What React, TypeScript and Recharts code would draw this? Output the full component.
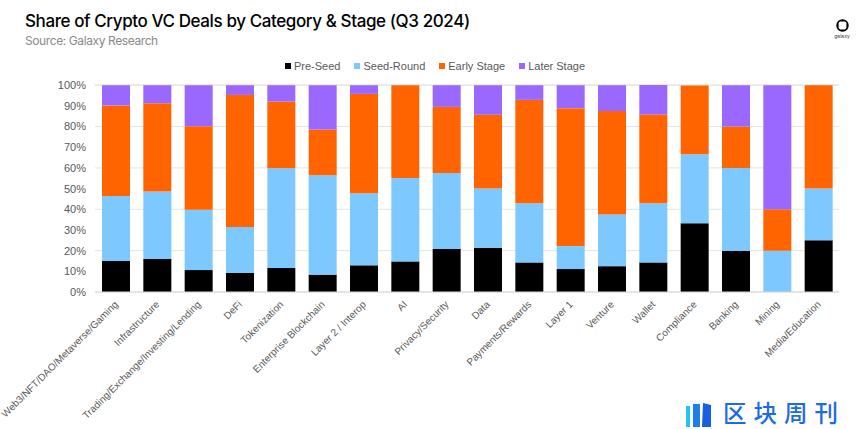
import { BarChart, Bar, XAxis, YAxis, CartesianGrid, Legend } from "recharts";

const categories = [
  "Web3/NFT/DAO/Metaverse/Gaming",
  "Infrastructure",
  "Trading/Exchange/Investing/Lending",
  "DeFi",
  "Tokenization",
  "Enterprise Blockchain",
  "Layer 2 / Interop",
  "AI",
  "Privacy/Security",
  "Data",
  "Payments/Rewards",
  "Layer 1",
  "Venture",
  "Wallet",
  "Compliance",
  "Banking",
  "Mining",
  "Media/Education",
];

const preSeed = [15, 16, 10.6, 9.3, 11.6, 8.4, 12.9, 14.8, 20.8, 21.4, 14.3, 11.1, 12.5, 14.3, 33.3, 20, 0, 25];
const seedRound = [31.4, 32.6, 29.2, 22.1, 48.3, 48.1, 34.8, 40.3, 36.8, 28.6, 28.6, 11.1, 25, 28.6, 33.3, 40, 20, 25];
const earlyStage = [43.8, 42.7, 40.4, 63.9, 32.2, 22.1, 48.1, 44.9, 31.9, 35.7, 50, 66.7, 50, 42.9, 33.3, 20, 20, 50];
const laterStage = [9.8, 8.7, 19.8, 4.7, 7.9, 21.4, 4.2, 0, 10.5, 14.3, 7.1, 11.1, 12.5, 14.3, 0, 20, 60, 0];

const yTicks = [0, 10, 20, 30, 40, 50, 60, 70, 80, 90, 100];

const series = [
  { key: "preSeed", label: "Pre-Seed", color: "#000000" },
  { key: "seedRound", label: "Seed-Round", color: "#7DC9FF" },
  { key: "earlyStage", label: "Early Stage", color: "#FF6400" },
  { key: "laterStage", label: "Later Stage", color: "#9A68FF" },
];

const data = categories.map((name, i) => ({
  name,
  preSeed: preSeed[i],
  seedRound: seedRound[i],
  earlyStage: earlyStage[i],
  laterStage: laterStage[i],
}));

const axisFont = "'Liberation Sans', Arial, sans-serif";

function CategoryTick({ x, y, payload }: any) {
  const ax = x + 3;
  const ay = y + 5;
  return (
    <text
      x={ax}
      y={ay}
      textAnchor="end"
      transform={`rotate(-45, ${ax}, ${ay})`}
      fontSize={10}
      fontFamily={axisFont}
      fill="#595959"
    >
      {payload.value}
    </text>
  );
}

function StageLegend() {
  return (
    <div style={{ display: "flex", alignItems: "center", paddingLeft: 285, fontFamily: axisFont, fontSize: 11, color: "#595959" }}>
      {series.map((s) => (
        <div key={s.key} style={{ display: "flex", alignItems: "center", marginRight: 14 }}>
          <div style={{ width: 6, height: 6, background: s.color, marginRight: 3 }} />
          <span>{s.label}</span>
        </div>
      ))}
    </div>
  );
}

function GalaxyMark() {
  return (
    <div style={{ position: "absolute", left: 830, top: 19, width: 24, textAlign: "center" }}>
      <svg width={13} height={13} viewBox="0 0 13 13" style={{ display: "block", margin: "0 auto" }}>
        <circle cx={6.5} cy={6.5} r={6.2} fill="#000" />
        <rect x={2.6} y={2.6} width={7.8} height={7.8} rx={1.8} fill="#fff" />
      </svg>
      <div style={{ fontFamily: "Inter, sans-serif", fontSize: 5, color: "#333", marginTop: 1, lineHeight: "6px" }}>galaxy</div>
    </div>
  );
}

// 区块周刊 watermark, bottom right
function Watermark() {
  return (
    <div style={{ position: "absolute", left: 686, top: 396, display: "flex", alignItems: "flex-start" }}>
      <svg width={26} height={24} viewBox="0 0 26 24" style={{ marginTop: 7 }}>
        <rect x={0} y={3} width={4} height={21} fill="#22c4f3" />
        <rect x={7} y={1} width={7} height={23} fill="#1b7ff0" />
        <polygon points="17,0 25,2 25,24 16,24" fill="#1a5fe0" />
      </svg>
      <svg width={126} height={33} style={{ marginLeft: 11 }}>
        <text
          x={0}
          y={26}
          fontFamily="'Noto Sans CJK SC', sans-serif"
          fontWeight={500}
          fontSize={23.5}
          letterSpacing={7}
          fill="#1d6ae5"
        >
          区块周刊
        </text>
      </svg>
    </div>
  );
}

export default function App() {
  return (
    <div style={{ position: "absolute", left: 0, top: 0, width: 866, height: 429, background: "#fff", overflow: "hidden" }}>
      <div style={{ position: "absolute", left: 25, top: 11, fontFamily: "Inter, sans-serif", fontWeight: 500, fontSize: 17, color: "#000", letterSpacing: -0.4 }}>
        Share of Crypto VC Deals by Category &amp; Stage (Q3 2024)
      </div>
      <div style={{ position: "absolute", left: 25, top: 33, fontFamily: "Inter, sans-serif", fontSize: 12, color: "#8a8a8a", letterSpacing: -0.4 }}>
        Source: Galaxy Research
      </div>
      <GalaxyMark />
      <BarChart width={866} height={429} data={data} margin={{ top: 85, right: 27, left: 0, bottom: 0 }}>
        <CartesianGrid vertical={false} stroke="#e3e3e3" />
        <XAxis
          dataKey="name"
          interval={0}
          height={137}
          tick={<CategoryTick />}
          tickLine={false}
          axisLine={{ stroke: "#d9d9d9" }}
        />
        <YAxis
          domain={[0, 100]}
          ticks={yTicks}
          tickFormatter={(v: number) => `${v}%`}
          width={95}
          axisLine={false}
          tickLine={false}
          tickMargin={3}
          tick={{ fontSize: 11, fill: "#595959", fontFamily: axisFont }}
        />
        <Legend
          verticalAlign="middle"
          layout="horizontal"
          content={<StageLegend />}
          wrapperStyle={{ top: 60, left: 0, width: 866 }}
        />
        {series.map((s) => (
          <Bar key={s.key} dataKey={s.key} name={s.label} stackId="a" fill={s.color} barSize={28} isAnimationActive={false} />
        ))}
      </BarChart>
      <Watermark />
    </div>
  );
}
